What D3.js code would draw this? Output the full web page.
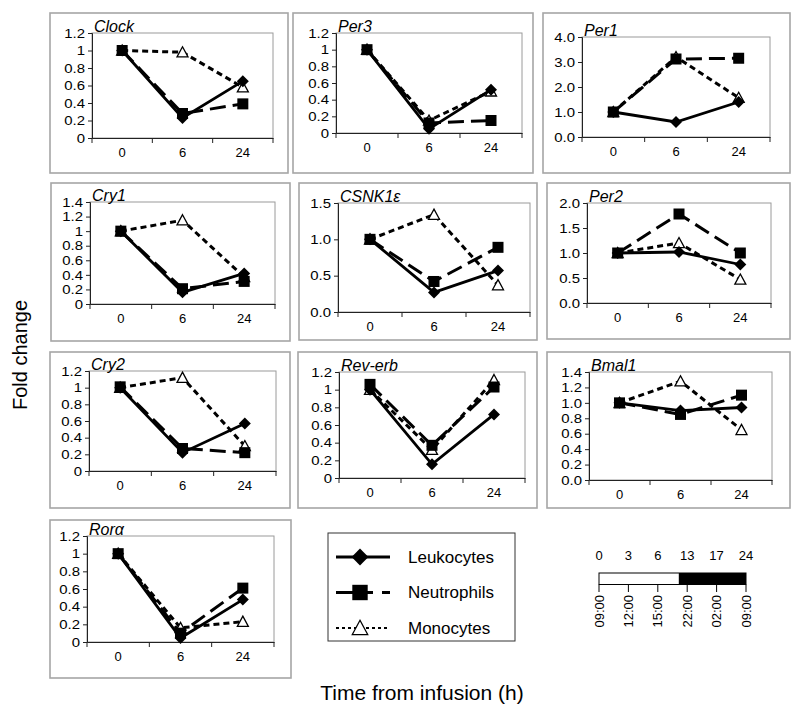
<!DOCTYPE html>
<html><head><meta charset="utf-8">
<script src="https://cdn.jsdelivr.net/npm/d3@7"></script>
<style>
body{margin:0;background:#fff}
svg{display:block}
text{font-family:"Liberation Sans",Arial,sans-serif;fill:#000}
</style>
</head><body>
<svg id="c" width="800" height="720"></svg>
<script>
// ---------- DATA ----------
const timepoints = ["0", "6", "24"];
const genes = ["Clock", "Per3", "Per1", "Cry1", "CSNK1ε", "Per2", "Cry2", "Rev-erb", "Bmal1", "Rorα"];
const seriesNames = ["Leukocytes", "Neutrophils", "Monocytes"];
const leukocytes = [
  [1, 0.23, 0.65], [1, 0.05, 0.52], [1, 0.6, 1.4], [1, 0.16, 0.42], [1, 0.27, 0.57],
  [1, 1.02, 0.77], [1, 0.22, 0.57], [1, 0.155, 0.72], [1, 0.9, 0.94], [1, 0.045, 0.48]
];
const neutrophils = [
  [1, 0.28, 0.39], [1, 0.12, 0.15], [1, 3.12, 3.15], [1, 0.21, 0.31], [1, 0.42, 0.89],
  [1, 1.78, 1.0], [1.01, 0.27, 0.22], [1.06, 0.37, 1.03], [1, 0.85, 1.1], [1, 0.1, 0.61]
];
const monocytes = [
  [1, 0.98, 0.58], [1, 0.15, 0.5], [1, 3.2, 1.57], [1, 1.15, 0.37], [1, 1.34, 0.37],
  [1, 1.2, 0.47], [1, 1.12, 0.3], [1, 0.32, 1.11], [1, 1.28, 0.65], [1, 0.16, 0.23]
];
const yMax = [1.2, 1.2, 4.0, 1.4, 1.5, 2.0, 1.2, 1.2, 1.4, 1.2];
const yStep = [0.2, 0.2, 1.0, 0.2, 0.5, 0.5, 0.2, 0.2, 0.2, 0.2];
const yFixed = [false, false, true, false, true, true, false, false, true, false];
const clockHours = [0, 3, 6, 13, 17, 24];
const clockTimes = ["09:00", "12:00", "15:00", "22:00", "02:00", "09:00"];
const darkStart = 11;
const yTitle = "Fold change";
const xTitle = "Time from infusion (h)";

// ---------- LAYOUT ----------
const layout = [
  {box: [50, 13, 288, 173], plot: [92, 33, 273, 138]},
  {box: [293, 13, 533, 173], plot: [336, 33, 522, 133]},
  {box: [543, 13, 790, 173], plot: [582, 37, 770, 137]},
  {box: [51, 183, 290, 341], plot: [90, 202, 275, 304]},
  {box: [299, 183, 537, 340], plot: [338, 203, 530, 312]},
  {box: [547, 183, 790, 339], plot: [587, 203, 771, 303]},
  {box: [50, 352, 290, 508], plot: [89, 371, 276, 471]},
  {box: [298, 352, 537, 508], plot: [339, 372, 525, 478]},
  {box: [547, 352, 790, 508], plot: [589, 372, 772, 480]},
  {box: [50, 520, 291, 678], plot: [87, 536, 274, 642]}
];

const styles = {
  Leukocytes: {dash: null, width: 2.8, marker: "diamond"},
  Neutrophils: {dash: "16,7", width: 3, marker: "square"},
  Monocytes: {dash: "6,4", width: 3, marker: "triangle"}
};
const seriesData = {Leukocytes: leukocytes, Neutrophils: neutrophils, Monocytes: monocytes};
const drawOrder = ["Monocytes", "Neutrophils", "Leukocytes"];
const FONT = "'Liberation Sans',Arial,sans-serif";
const tickStretch = 1.15;

const svg = d3.select("#c");

function drawMarker(g, type, x, y, s) {
  s = s || 1;
  if (type === "diamond") {
    const r = 6 * s;
    g.append("path").attr("d", `M${x},${y - r}L${x + r},${y}L${x},${y + r}L${x - r},${y}Z`).attr("fill", "#000");
  } else if (type === "square") {
    const h = 5.5 * s;
    g.append("rect").attr("x", x - h).attr("y", y - h).attr("width", 2 * h).attr("height", 2 * h).attr("fill", "#000");
  } else {
    const w = 5.5 * s, h = 5.5 * s;
    g.append("path").attr("d", `M${x},${y - h}L${x + w},${y + h * 0.85}L${x - w},${y + h * 0.85}Z`)
      .attr("fill", "#fff").attr("stroke", "#000").attr("stroke-width", 1.3);
  }
}

genes.forEach((gene, i) => {
  const L = layout[i];
  const [bx0, by0, bx1, by1] = L.box;
  const [px0, py0, px1, py1] = L.plot;
  const g = svg.append("g");
  g.append("rect").attr("x", bx0).attr("y", by0).attr("width", bx1 - bx0).attr("height", by1 - by0)
    .attr("fill", "none").attr("stroke", "#a6a6a6").attr("stroke-width", 1.6);
  g.append("rect").attr("x", px0).attr("y", py0).attr("width", px1 - px0).attr("height", py1 - py0)
    .attr("fill", "none").attr("stroke", "#9a9a9a").attr("stroke-width", 1);

  const x = d3.scaleBand().domain(timepoints).range([px0, px1]).padding(0);
  const y = d3.scaleLinear().domain([0, yMax[i]]).range([py1, py0]);
  const ticks = d3.range(0, yMax[i] + 1e-9, yStep[i]).map(v => +v.toFixed(4));
  const fmt = yFixed[i] ? d3.format(".1f") : (v => String(+v.toFixed(2)));

  const ya = g.append("g").attr("transform", `translate(${px0},0)`)
    .call(d3.axisLeft(y).tickValues(ticks).tickSize(4).tickPadding(3).tickFormat(fmt));
  ya.attr("font-size", 13).attr("font-family", FONT);
  ya.select(".domain").attr("stroke", "#222").attr("stroke-width", 1);
  ya.selectAll(".tick line").attr("stroke", "#222");
  ya.selectAll("text").attr("x", -7 / tickStretch).attr("transform", `scale(${tickStretch},1)`);

  const xa = g.append("g").attr("transform", `translate(0,${py1})`)
    .call(d3.axisBottom(x).tickSize(0).tickPadding(10));
  xa.attr("font-size", 13).attr("font-family", FONT);
  xa.select(".domain").attr("stroke", "#222").attr("stroke-width", 1);
  const bounds = timepoints.map(t => x(t)).concat([x.range()[1]]);
  g.selectAll(null).data(bounds).enter().append("line")
    .attr("x1", d => d).attr("x2", d => d).attr("y1", py1).attr("y2", py1 + 5)
    .attr("stroke", "#222");

  g.append("text").attr("x", px0 + 2).attr("y", py0 - 1).attr("font-size", 16)
    .attr("font-style", "italic").text(gene);

  const cx = t => x(t) + x.bandwidth() / 2;
  drawOrder.forEach(name => {
    const vals = seriesData[name][i];
    const st = styles[name];
    const line = d3.line().x((d, j) => cx(timepoints[j])).y(d => y(d));
    g.append("path").datum(vals).attr("d", line).attr("fill", "none").attr("stroke", "#000")
      .attr("stroke-width", st.width).attr("stroke-dasharray", st.dash);
    vals.forEach((v, j) => drawMarker(g, st.marker, cx(timepoints[j]), y(v)));
  });
});

// ---------- LEGEND ----------
const lg = svg.append("g");
lg.append("rect").attr("x", 328).attr("y", 533).attr("width", 187).attr("height", 108)
  .attr("fill", "none").attr("stroke", "#333").attr("stroke-width", 1);
const legendY = d3.scalePoint().domain(seriesNames).range([557, 628]);
const legendDash = {Leukocytes: null, Neutrophils: "37,9,10", Monocytes: "3,3"};
const legendW = {Leukocytes: 3.2, Neutrophils: 3.2, Monocytes: 2.2};
seriesNames.forEach(name => {
  const yy = legendY(name);
  lg.append("line").attr("x1", 336).attr("x2", 390).attr("y1", yy).attr("y2", yy)
    .attr("stroke", "#000").attr("stroke-width", legendW[name]).attr("stroke-dasharray", legendDash[name]);
  drawMarker(lg, styles[name].marker, 360, yy, 1.4);
  lg.append("text").attr("x", 408).attr("y", yy).attr("dy", "0.35em").attr("font-size", 17).text(name);
});

// ---------- TIME BAR ----------
const tb = svg.append("g");
const tx = d3.scaleLinear().domain(clockHours).range(clockHours.map((d, k) => 599 + k * (746 - 599) / (clockHours.length - 1)));
tb.append("rect").attr("x", tx(0)).attr("y", 573).attr("width", tx(darkStart) - tx(0)).attr("height", 11.5)
  .attr("fill", "#fff");
tb.append("rect").attr("x", tx(darkStart)).attr("y", 573).attr("width", tx(24) - tx(darkStart)).attr("height", 11.5)
  .attr("fill", "#000");
tb.append("rect").attr("x", tx(0)).attr("y", 573).attr("width", tx(24) - tx(0)).attr("height", 11.5)
  .attr("fill", "none").attr("stroke", "#000").attr("stroke-width", 1);
clockHours.forEach((h, k) => {
  const xx = tx(h);
  tb.append("line").attr("x1", xx).attr("x2", xx).attr("y1", 584.5).attr("y2", 592).attr("stroke", "#000");
  tb.append("text").attr("x", xx).attr("y", 560).attr("text-anchor", "middle").attr("font-size", 13).text(h);
  tb.append("text").attr("transform", `translate(${xx},595) rotate(-90)`).attr("text-anchor", "end")
    .attr("dy", "0.35em").attr("font-size", 13).text(clockTimes[k]);
});

// ---------- AXIS TITLES ----------
svg.append("text").attr("transform", "translate(20,355) rotate(-90)").attr("text-anchor", "middle")
  .attr("dy", "0.35em").attr("font-size", 20).text(yTitle);
svg.append("text").attr("x", 422).attr("y", 700).attr("text-anchor", "middle").attr("font-size", 21).text(xTitle);
</script>
</body></html>
